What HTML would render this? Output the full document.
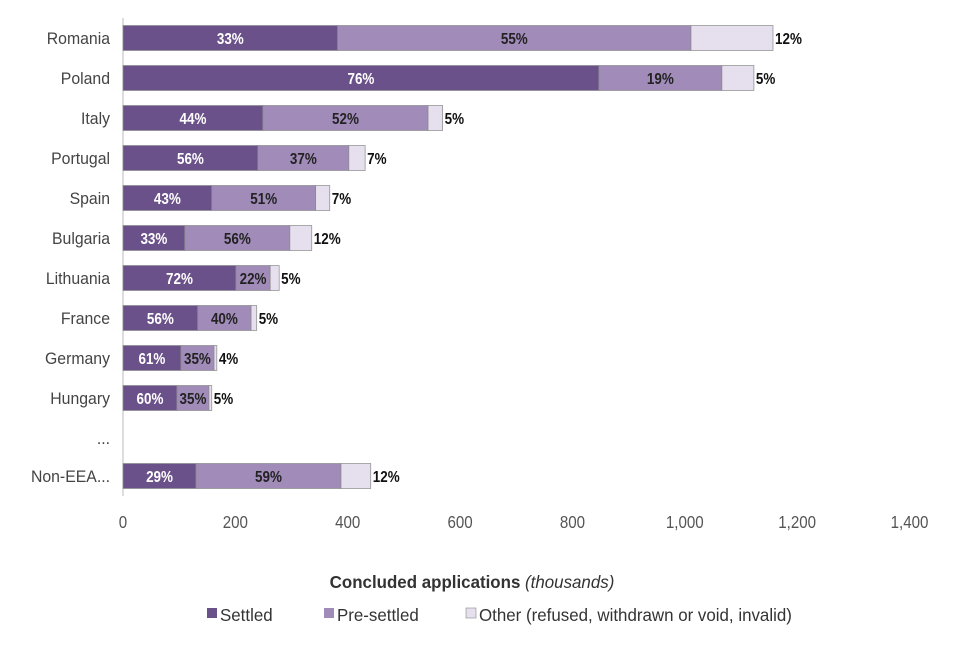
<!DOCTYPE html>
<html><head><meta charset="utf-8"><style>
body{margin:0;background:#fff;font-family:"Liberation Sans",sans-serif;}
svg text{font-family:"Liberation Sans",sans-serif;}
</style></head><body>
<svg id="chart" width="960" height="640" viewBox="0 0 960 640" xmlns="http://www.w3.org/2000/svg">
<g id="grid"></g><g id="bars"></g><g id="labels"></g>
<text class="c" x="472" y="588" text-anchor="middle" font-size="18" font-weight="bold" fill="#333">Concluded applications <tspan font-weight="normal" font-style="italic">(thousands)</tspan></text>
<g font-size="18" fill="#333">
<rect x="207" y="608" width="10" height="10" fill="#6b5189"/>
<text class="c" x="220" y="621">Settled</text>
<rect x="324" y="608" width="10" height="10" fill="#a18bb9"/>
<text class="c" x="337" y="621">Pre-settled</text>
<rect x="466" y="608" width="10" height="10" fill="#e6e0ee" stroke="#888" stroke-width="0.6"/>
<text class="c" x="479" y="621">Other (refused, withdrawn or void, invalid)</text>
</g>
</svg>
<script>
const categories=["Romania","Poland","Italy","Portugal","Spain","Bulgaria","Lithuania","France","Germany","Hungary","...","Non-EEA..."];
const settled=[382,847,249,240,158,110,201,133,103,96,null,130];
const preSettled=[629,219,294,162,185,187,61,95,59,57,null,258];
const other=[146,57,26,29,25,39,16,10,5,5,null,53];
const settledPct=["33%","76%","44%","56%","43%","33%","72%","56%","61%","60%","","29%"];
const prePct=["55%","19%","52%","37%","51%","56%","22%","40%","35%","35%","","59%"];
const otherPct=["12%","5%","5%","7%","7%","12%","5%","5%","4%","5%","","12%"];
const ticks=[0,200,400,600,800,1000,1200,1400];
const tickLabels=["0","200","400","600","800","1,000","1,200","1,400"];
const NS="http://www.w3.org/2000/svg";
const x0=123,scale=0.5618;
const xs=v=>x0+v*scale;
const yc=i=>38+i*40-(i===11?2:0);
const bh=25;
function condense(el,k){const x=el.getAttribute('x'),y=el.getAttribute('y');el.setAttribute('x',0);el.setAttribute('y',0);el.setAttribute('transform','translate('+x+','+y+') scale('+(k||0.84)+',1)');}
function mk(tag,attrs,parent,txt,k){const e=document.createElementNS(NS,tag);for(const a in attrs)e.setAttribute(a,attrs[a]);if(txt!==undefined)e.textContent=txt;parent.appendChild(e);if(tag==='text')condense(e,k);return e;}
document.querySelectorAll('text.c').forEach(e=>condense(e,0.94));
const grid=document.getElementById('grid'),bars=document.getElementById('bars'),labels=document.getElementById('labels');
const ax=mk('line',{x1:x0,x2:x0,y1:18,y2:496,stroke:'#bbb'},grid);


ticks.forEach((t,i)=>{
 const tl=mk('text',{x:xs(t),y:528,'text-anchor':'middle','font-size':18,fill:'#555'},grid,tickLabels[i]);
 
 
});
categories.forEach((c,i)=>{
 const y=yc(i);
 const cl=mk('text',{x:110,y:y+6,'text-anchor':'end','font-size':17,fill:'#444'},labels,c,0.93);
 
 
 if(settled[i]===null)return;
 const segs=[[settled[i],'#6b5189',settledPct[i],'#fff','settled'],[preSettled[i],'#a18bb9',prePct[i],'#222','pre-settled'],[other[i],'#e6e0ee',otherPct[i],'#111','other']];
 let acc=0;
 segs.forEach((s,j)=>{
  const xa=xs(acc),xb=xs(acc+s[0]);acc+=s[0];
  const r=mk('rect',{x:xa,y:y-bh/2,width:xb-xa,height:bh,fill:s[1],stroke:'#8a8a8a','stroke-width':0.7},bars);
  
  
  const lx=j===2?xb+2:(xa+xb)/2;
  const t=mk('text',{x:lx,y:y+6,'text-anchor':j===2?'start':'middle','font-size':16,'font-weight':'bold',fill:s[3]},labels,s[2]);
  
  
 });
});
</script>
</body></html>
